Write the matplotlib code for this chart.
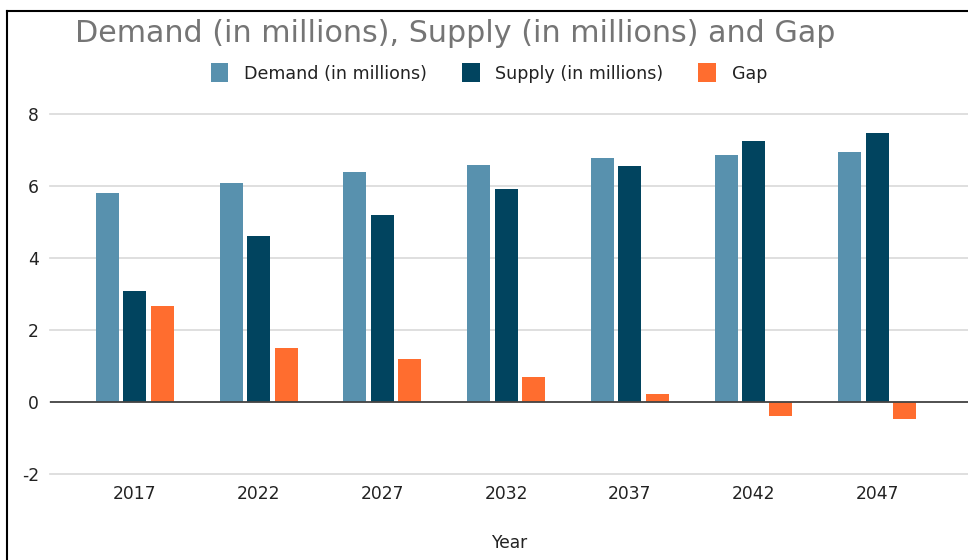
import matplotlib
matplotlib.use("Agg")
import matplotlib.pyplot as plt
import numpy as np
from matplotlib.lines import Line2D

plt.rcParams['font.family'] = ['DejaVu Sans']
plt.rcParams['axes.unicode_minus'] = False

years = ["2017", "2022", "2027", "2032", "2037", "2042", "2047"]
demand = [5.8, 6.08, 6.4, 6.58, 6.77, 6.86, 6.95]
supply = [3.07, 4.6, 5.2, 5.92, 6.56, 7.26, 7.48]
gap = [2.68, 1.5, 1.19, 0.69, 0.21, -0.4, -0.47]

series = [("Demand (in millions)", demand, "#5891ae"),
          ("Supply (in millions)", supply, "#01445f"),
          ("Gap", gap, "#ff6d2f")]

W, H = 968, 560
fig = plt.figure(figsize=(W/100, H/100), dpi=100)
ax = fig.add_axes([50/W, 1-474/H, (W-50)/W, (474-114)/H])

x = np.arange(len(years))
bw = 0.186
pitch = 0.222
handles = []
for i, (name, vals, col) in enumerate(series):
    b = ax.bar(x + (i-1)*pitch, vals, width=bw, color=col, label=name, zorder=3)
    handles.append(b)

ax.set_xlim(-0.687, 6.734)
ax.set_ylim(-2.0, 8.0)
ax.set_yticks([-2, 0, 2, 4, 6, 8])
ax.grid(axis='y', color='#d9d9d9', linewidth=1.2, zorder=0)
for gl in ax.get_ygridlines():
    gl.set_clip_on(False)
ax.axhline(0, color='#444444', linewidth=1.3, zorder=4)
for s in ax.spines.values():
    s.set_visible(False)
ax.tick_params(axis='both', length=0, labelsize=12.3, colors='#222222')
ax.tick_params(axis='y', pad=8)
ax.tick_params(axis='x', pad=8)
ax.set_xticks(x)
ax.set_xticklabels(years)
ax.set_xlabel("Year", fontsize=12.3, color='#222222', labelpad=22)

fig.text(75/W, 1-33/H, "Demand (in millions), Supply (in millions) and Gap",
         fontsize=21.7, color='#757575', ha='left', va='center')

fig.legend(handles=handles, labels=[s[0] for s in series], loc='center',
           bbox_to_anchor=(489/W, 1-73/H), ncol=3, frameon=False,
           fontsize=12.6, handlelength=1.0, handleheight=1.3, columnspacing=2.0,
           handletextpad=0.9, labelcolor='#222222')

fig.add_artist(Line2D([7/W, 7/W], [0, 1-11/H], color='black', linewidth=1.5, transform=fig.transFigure))
fig.add_artist(Line2D([7/W, 1], [1-11/H, 1-11/H], color='black', linewidth=1.5, transform=fig.transFigure))

fig.savefig("out.png", dpi=100)
